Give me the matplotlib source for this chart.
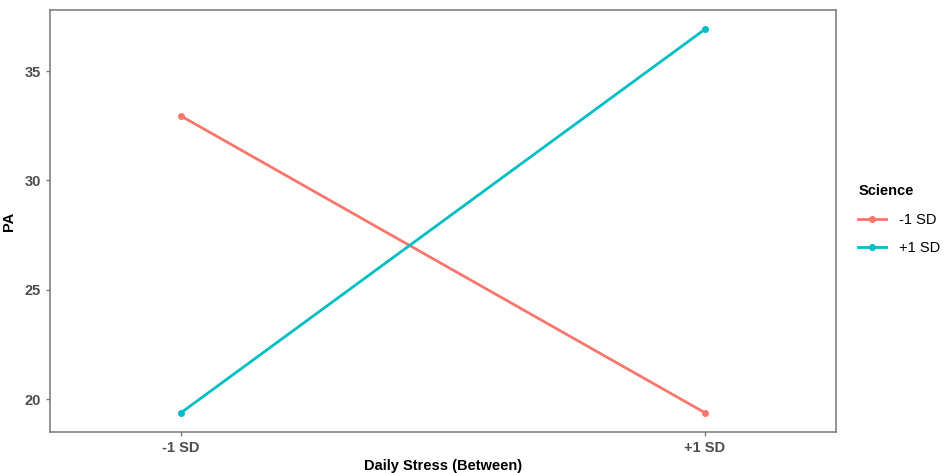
import matplotlib.pyplot as plt

plt.rcParams['font.family'] = ['Liberation Sans', 'DejaVu Sans']

# data
stress_levels = ["-1 SD", "+1 SD"]
pa_low_science = [32.95, 19.37]
pa_high_science = [19.37, 36.92]
series_labels = ["-1 SD", "+1 SD"]
series_colors = ["#F8766D", "#00BFC4"]
y_ticks = [20, 25, 30, 35]

fig = plt.figure(figsize=(9.48, 4.73), dpi=100)
ax = fig.add_axes([50 / 948, 41 / 473, 786 / 948, 422 / 473])

x = [1, 2]
for vals, lab, col in zip([pa_low_science, pa_high_science], series_labels, series_colors):
    ax.plot(x, vals, color=col, lw=2, marker="o", ms=4, label=lab)

ax.set_xlim(0.75, 2.25)
ax.set_ylim(18.49, 37.8)
ax.set_xticks(x)
ax.set_xticklabels(stress_levels)
ax.set_yticks(y_ticks)

for s in ax.spines.values():
    s.set_color("#777777")
    s.set_linewidth(1.1)
ax.tick_params(colors="#777777", length=3, width=1, labelcolor="#4D4D4D", labelsize=10.5)
for t in ax.get_xticklabels() + ax.get_yticklabels():
    t.set_fontweight("bold")

ax.set_xlabel("Daily Stress (Between)", fontsize=10.5, fontweight="bold", labelpad=3)
ax.set_ylabel("PA", fontsize=10.5, fontweight="bold", labelpad=6)

leg = fig.legend(loc="upper left", bbox_to_anchor=(845 / 948, 1 - 171 / 473), frameon=False,
                 title="Science", fontsize=10.5, handlelength=1.9, handletextpad=0.9,
                 labelspacing=1.0, alignment="left")
leg.get_title().set_fontweight("bold")
leg.get_title().set_fontsize(10.5)

fig.savefig("out.png", dpi=100)
